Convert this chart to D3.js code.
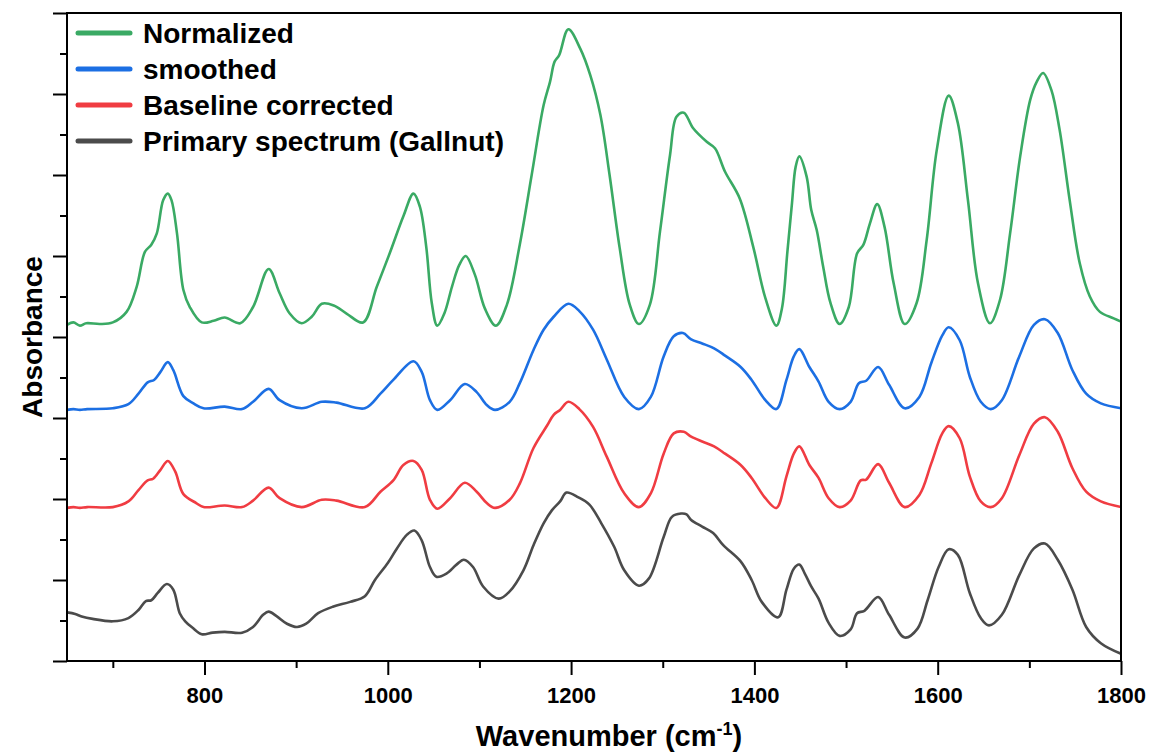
<!DOCTYPE html>
<html>
<head>
<meta charset="utf-8">
<script src="https://cdn.jsdelivr.net/npm/d3@7"></script>
<style>
  html, body { margin: 0; padding: 0; background: #fff; }
  svg { display: block; }
  text { font-family: "Liberation Sans", Arial, Helvetica, sans-serif; font-weight: bold; fill: #000; }
</style>
</head>
<body>
<svg id="chart" width="1149" height="754"></svg>
<script>
// ---------------- DATA ----------------
const seriesNames = ["Normalized", "smoothed", "Baseline corrected", "Primary spectrum (Gallnut)"];
const xTickLabels = [800, 1000, 1200, 1400, 1600, 1800];
const xMinorTicks = [700, 900, 1100, 1300, 1500, 1700];
const yMajorTicks = [0, 1, 2, 3, 4, 5, 6, 7, 8];
const yMinorTicks = [0.5, 1.5, 2.5, 3.5, 4.5, 5.5, 6.5, 7.5];

const normalizedWn = [650,657,664,671,686,700,715,726,735,742,748,755,760,764,770,777,784,797,810,822,839,853,870,882,893,906,917,928,941,955,973,988,1002,1017,1028,1035,1042,1048,1054,1062,1070,1078,1085,1095,1106,1118,1130,1144,1157,1170,1177,1182,1187,1197,1210,1221,1232,1242,1253,1264,1274,1286,1297,1308,1315,1323,1333,1348,1357,1368,1384,1399,1412,1424,1430,1436,1441,1445,1449,1457,1462,1468,1475,1483,1493,1503,1512,1519,1526,1534,1542,1552,1564,1577,1588,1599,1612,1622,1633,1644,1657,1668,1679,1690,1701,1708,1715,1724,1733,1744,1755,1766,1777,1792,1800];
const normalizedAbs = [4.15,4.18,4.14,4.17,4.16,4.18,4.31,4.62,5.05,5.14,5.28,5.69,5.77,5.69,5.28,4.58,4.37,4.18,4.20,4.24,4.17,4.37,4.84,4.54,4.29,4.17,4.25,4.41,4.39,4.29,4.18,4.62,5.03,5.49,5.77,5.61,5.11,4.42,4.14,4.30,4.62,4.89,5.00,4.77,4.35,4.14,4.40,5.14,6.00,6.86,7.15,7.40,7.48,7.80,7.56,7.23,6.74,6.00,5.10,4.40,4.16,4.40,5.30,6.25,6.72,6.77,6.58,6.41,6.33,6.04,5.71,5.10,4.48,4.14,4.35,5.05,5.65,6.10,6.23,5.98,5.57,5.32,4.87,4.42,4.16,4.37,5.03,5.14,5.40,5.64,5.36,4.66,4.16,4.42,5.20,6.31,6.98,6.64,5.69,4.66,4.17,4.46,5.28,6.23,6.93,7.15,7.26,7.05,6.56,5.69,4.91,4.50,4.31,4.23,4.19];

const smoothedWn = [650,657,664,672,700,717,728,738,745,752,760,766,777,788,799,822,841,853,870,882,906,928,944,975,992,1006,1028,1037,1046,1054,1068,1084,1097,1108,1117,1133,1144,1159,1170,1181,1197,1209,1224,1239,1258,1274,1287,1301,1312,1322,1331,1343,1356,1368,1385,1397,1412,1424,1435,1443,1449,1460,1470,1481,1493,1505,1514,1522,1535,1547,1564,1580,1593,1605,1612,1624,1635,1647,1658,1670,1689,1705,1717,1731,1747,1762,1778,1800];
const smoothedAbs = [3.10,3.11,3.10,3.11,3.12,3.17,3.30,3.44,3.47,3.57,3.69,3.59,3.27,3.18,3.12,3.14,3.11,3.20,3.36,3.22,3.12,3.20,3.19,3.12,3.30,3.47,3.70,3.57,3.22,3.10,3.22,3.42,3.32,3.16,3.10,3.20,3.43,3.84,4.09,4.25,4.41,4.32,4.09,3.72,3.26,3.11,3.26,3.76,4.01,4.05,3.97,3.92,3.86,3.77,3.63,3.47,3.22,3.11,3.47,3.76,3.85,3.63,3.45,3.20,3.11,3.20,3.43,3.46,3.63,3.41,3.12,3.26,3.68,4.02,4.12,3.96,3.51,3.20,3.11,3.22,3.76,4.15,4.22,4.05,3.59,3.30,3.18,3.12];

const baselineWn = [650,657,664,672,700,717,728,738,744,752,760,768,777,791,799,822,841,853,870,882,906,928,944,975,992,1006,1017,1028,1037,1046,1054,1068,1084,1097,1108,1117,1133,1144,1159,1174,1181,1188,1197,1209,1224,1239,1258,1274,1287,1301,1312,1323,1331,1343,1356,1368,1385,1397,1412,1424,1435,1443,1449,1460,1470,1481,1493,1505,1516,1522,1535,1547,1564,1580,1593,1605,1612,1624,1635,1647,1658,1670,1689,1705,1717,1731,1747,1762,1778,1800];
const baselineAbs = [1.89,1.90,1.89,1.90,1.90,1.97,2.11,2.23,2.25,2.36,2.47,2.34,2.06,1.95,1.90,1.92,1.90,1.98,2.14,2.01,1.90,1.99,1.98,1.90,2.09,2.23,2.42,2.47,2.36,1.99,1.88,2.01,2.20,2.09,1.95,1.89,1.99,2.19,2.63,2.91,3.04,3.10,3.20,3.11,2.89,2.52,2.07,1.90,2.07,2.56,2.81,2.83,2.77,2.71,2.65,2.56,2.42,2.26,2.01,1.89,2.28,2.56,2.65,2.42,2.26,2.01,1.90,1.98,2.23,2.24,2.43,2.20,1.90,2.05,2.44,2.81,2.90,2.75,2.28,1.97,1.90,2.01,2.54,2.93,3.01,2.83,2.38,2.09,1.97,1.90];

const primaryWn = [650,659,666,678,700,717,728,736,742,749,759,766,773,779,787,797,809,822,841,853,864,870,879,890,901,911,924,940,959,975,986,1000,1010,1021,1029,1037,1046,1053,1064,1075,1083,1093,1104,1121,1133,1148,1159,1170,1179,1188,1195,1208,1220,1233,1247,1258,1274,1285,1301,1310,1320,1326,1331,1343,1355,1366,1385,1397,1408,1426,1435,1443,1449,1455,1462,1470,1481,1493,1505,1512,1520,1535,1547,1564,1578,1589,1601,1612,1622,1635,1647,1656,1670,1689,1705,1717,1731,1747,1762,1778,1800];
const primaryAbs = [0.60,0.58,0.55,0.52,0.49,0.53,0.63,0.74,0.75,0.84,0.95,0.88,0.59,0.49,0.41,0.33,0.35,0.36,0.35,0.42,0.57,0.61,0.55,0.46,0.42,0.46,0.59,0.67,0.73,0.80,1.00,1.21,1.39,1.56,1.61,1.49,1.16,1.04,1.08,1.19,1.25,1.16,0.92,0.77,0.86,1.12,1.43,1.70,1.86,1.97,2.08,2.02,1.93,1.70,1.41,1.12,0.93,1.02,1.53,1.78,1.82,1.81,1.74,1.66,1.58,1.43,1.23,1.00,0.73,0.54,0.88,1.14,1.19,1.08,0.92,0.77,0.47,0.31,0.39,0.59,0.62,0.79,0.57,0.29,0.40,0.75,1.16,1.38,1.31,0.84,0.53,0.44,0.57,1.06,1.39,1.45,1.25,0.88,0.42,0.22,0.09];

const seriesColors = ["#3aaa64", "#1c6fe3", "#f03c42", "#4b4b4b"];

// ---------------- CHART ----------------
const svg = d3.select("#chart");
const pL = 67, pR = 1121, pT = 13, pB = 661;

const x = d3.scaleLinear().domain([650, 1800]).range([pL, pR]);
const y = d3.scaleLinear().domain([0, 8]).range([pB, pT]);

const series = [
  { name: seriesNames[0], wn: normalizedWn, abs: normalizedAbs, color: seriesColors[0] },
  { name: seriesNames[1], wn: smoothedWn, abs: smoothedAbs, color: seriesColors[1] },
  { name: seriesNames[2], wn: baselineWn, abs: baselineAbs, color: seriesColors[2] },
  { name: seriesNames[3], wn: primaryWn, abs: primaryAbs, color: seriesColors[3] }
];

svg.append("defs").append("clipPath").attr("id", "plotClip")
  .append("rect").attr("x", pL).attr("y", pT).attr("width", pR - pL).attr("height", pB - pT);

const line = d3.line()
  .defined(d => d[1] != null && !isNaN(d[1]))
  .x(d => x(d[0]))
  .y(d => y(d[1]))
  .curve(d3.curveCatmullRom.alpha(0.5));

const plot = svg.append("g").attr("clip-path", "url(#plotClip)");
series.slice().reverse().forEach(s => {
  plot.append("path")
    .datum(s.wn.map((w, i) => [w, s.abs[i]]))
    .attr("fill", "none")
    .attr("stroke", s.color)
    .attr("stroke-width", 2.6)
    .attr("stroke-linejoin", "round")
    .attr("d", line);
});

// Axes
const axisStroke = 2;
function styleAxis(g) {
  g.select(".domain").remove();
  g.selectAll(".tick line").attr("stroke", "#000").attr("stroke-width", axisStroke);
  g.selectAll(".tick text").style("font-size", "22px").style("font-weight", "bold")
    .attr("fill", "#000");
}

svg.append("g").attr("transform", `translate(0,${pB})`)
  .call(d3.axisBottom(x).tickValues(xTickLabels).tickSize(14).tickPadding(12).tickFormat(d3.format("d")))
  .call(styleAxis);
svg.append("g").attr("transform", `translate(0,${pB})`)
  .call(d3.axisBottom(x).tickValues(xMinorTicks).tickSize(7).tickFormat(""))
  .call(styleAxis);
svg.append("g").attr("transform", `translate(${pL},0)`)
  .call(d3.axisLeft(y).tickValues(yMajorTicks).tickSize(14).tickFormat(""))
  .call(styleAxis);
svg.append("g").attr("transform", `translate(${pL},0)`)
  .call(d3.axisLeft(y).tickValues(yMinorTicks).tickSize(7).tickFormat(""))
  .call(styleAxis);

// Frame
svg.append("rect")
  .attr("x", pL).attr("y", pT)
  .attr("width", pR - pL).attr("height", pB - pT)
  .attr("fill", "none").attr("stroke", "#000").attr("stroke-width", axisStroke);

// Axis titles
const xt = svg.append("text")
  .attr("x", 609).attr("y", 746)
  .attr("text-anchor", "middle")
  .style("font-size", "29px");
xt.append("tspan").text("Wavenumber (cm");
xt.append("tspan").attr("dy", -11).style("font-size", "18px").text("-1");
xt.append("tspan").attr("dy", 11).text(")");

svg.append("text")
  .attr("transform", `translate(42,${(pT + pB) / 2}) rotate(-90)`)
  .attr("text-anchor", "middle")
  .style("font-size", "28px")
  .text("Absorbance");

// Legend
const legendY0 = 33, legendStep = 36;
series.forEach((s, i) => {
  const ly = legendY0 + i * legendStep;
  svg.append("line")
    .attr("x1", 78).attr("x2", 130).attr("y1", ly).attr("y2", ly)
    .attr("stroke", s.color).attr("stroke-width", 5).attr("stroke-linecap", "round");
  svg.append("text")
    .attr("x", 143).attr("y", ly + 10)
    .style("font-size", "28px")
    .text(s.name);
});
</script>
</body>
</html>
